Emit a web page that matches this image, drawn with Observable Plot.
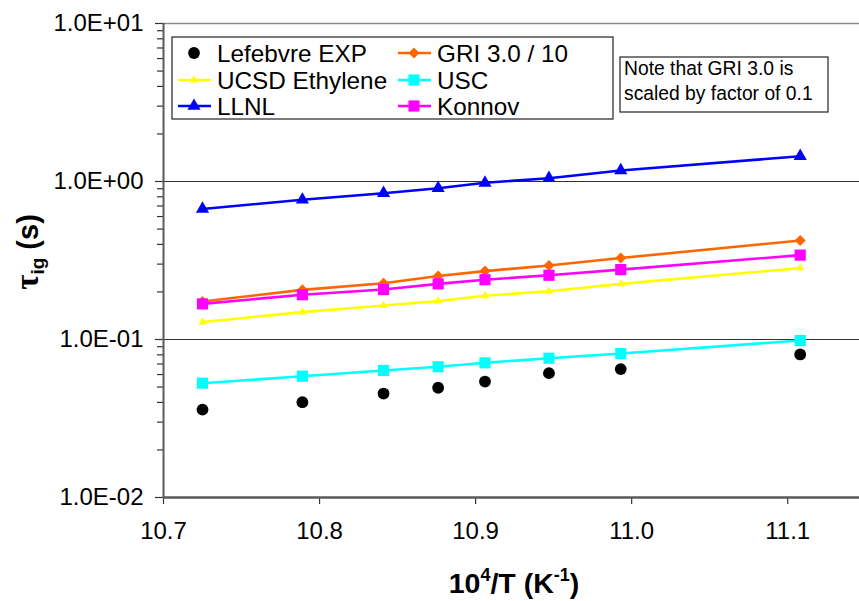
<!DOCTYPE html>
<html>
<head>
<meta charset="utf-8">
<script src="https://cdn.jsdelivr.net/npm/d3@7"></script>
<script src="https://cdn.jsdelivr.net/npm/@observablehq/plot@0.6"></script>
<style>
  body { margin: 0; background: #fff; }
  #chart svg { display: block; font-family: "Liberation Sans", Arial, sans-serif; }
</style>
</head>
<body>
<div id="chart"></div>
<script>
// Inverse temperature, 10^4/T (1/K)
const invT = [10.725, 10.789, 10.841, 10.876, 10.906, 10.947, 10.993, 11.108];

// Ignition delay times, tau_ig (s)
const lefebvreExp  = [0.0360, 0.0401, 0.0455, 0.0495, 0.0542, 0.0612, 0.0650, 0.0804];
const gri30Div10   = [0.174, 0.206, 0.227, 0.252, 0.271, 0.294, 0.328, 0.423];
const ucsdEthylene = [0.129, 0.149, 0.164, 0.175, 0.189, 0.202, 0.225, 0.283];
const usc          = [0.0529, 0.0586, 0.0637, 0.0672, 0.0712, 0.0761, 0.0815, 0.0985];
const llnl         = [0.670, 0.766, 0.843, 0.907, 0.981, 1.049, 1.174, 1.446];
const konnov       = [0.168, 0.192, 0.207, 0.225, 0.239, 0.255, 0.277, 0.342];

const seriesNames = ["Lefebvre EXP", "GRI 3.0 / 10", "UCSD Ethylene", "USC", "LLNL", "Konnov"];

// Axis ticks
const xTicks = [10.7, 10.8, 10.9, 11.0, 11.1];
const yTicks = [0.01, 0.1, 1, 10];
const yMinorTicks = [0.01, 0.1, 1].flatMap(d => [2, 3, 4, 5, 6, 7, 8, 9].map(k => k * d));

const noteLines = ["Note that GRI 3.0 is", "scaled by factor of 0.1"];

// Styling for each series
const series = [
  {name: seriesNames[0], values: lefebvreExp,  color: "#000000", symbol: "circle",   r: 5.9, line: false},
  {name: seriesNames[1], values: gri30Div10,   color: "#FF6600", symbol: "diamond2", r: 5.0, line: true},
  {name: seriesNames[2], values: ucsdEthylene, color: "#FFFF00", symbol: "triangle", r: 3.1, line: true},
  {name: seriesNames[3], values: usc,          color: "#00FFFF", symbol: "square",   r: 6.3, line: true},
  {name: seriesNames[4], values: llnl,         color: "#0000FF", symbol: "triangle", r: 4.9, line: true},
  {name: seriesNames[5], values: konnov,       color: "#FF00FF", symbol: "square",   r: 6.3, line: true}
];

const fmtE = d => {
  const [m, e] = d.toExponential(1).split("e");
  const n = +e;
  return m + "E" + (n < 0 ? "-" : "+") + String(Math.abs(n)).padStart(2, "0");
};

const W = 859, H = 601;
const fontFamily = '"Liberation Sans", Arial, sans-serif';

const seriesMarks = series.flatMap(s => {
  const pts = invT.map((x, i) => ({x, y: s.values[i]}));
  const m = [];
  if (s.line) m.push(Plot.line(pts, {x: "x", y: "y", stroke: s.color, strokeWidth: 2.6}));
  m.push(Plot.dot(pts, {x: "x", y: "y", symbol: s.symbol, r: s.r, fill: s.color, stroke: "none"}));
  return m;
});

const chart = Plot.plot({
  width: W,
  height: H,
  marginLeft: 163,
  marginRight: 0,
  marginTop: 23,
  marginBottom: 104,
  style: {fontFamily, fontSize: "24px", color: "#000", background: "#fff"},
  x: {domain: [10.7, 11.146], label: null},
  y: {type: "log", domain: [0.01, 10], label: null},
  marks: [
    Plot.ruleY([1, 0.1], {stroke: "#333", strokeWidth: 1.2}),
    Plot.ruleY([10], {stroke: "#8a8a8a", strokeWidth: 1.5}),
    Plot.axisY(yMinorTicks, {tickSize: 6, fill: "none", stroke: "#333", strokeWidth: 1.2, label: null}),
    Plot.axisY(yTicks, {tickSize: 8, tickPadding: 12, tickFormat: fmtE, stroke: "#333", strokeWidth: 1.2, fontSize: 24, label: null}),
    Plot.axisX(xTicks, {tickSize: 7, tickPadding: 17, tickFormat: d => d.toFixed(1), stroke: "#333", strokeWidth: 1.2, fontSize: 24, label: null}),
    Plot.ruleX([10.7], {stroke: "#5a5a5a", strokeWidth: 2}),
    Plot.ruleY([0.01], {stroke: "#5a5a5a", strokeWidth: 2.5}),
    ...seriesMarks
  ]
});

const svg = d3.select(chart);

// Legend box with two columns of entries
const legend = svg.append("g").attr("font-family", fontFamily).attr("text-anchor", "start");
legend.append("rect")
  .attr("x", 172).attr("y", 37).attr("width", 441).attr("height", 82)
  .attr("fill", "#fff").attr("stroke", "#333").attr("stroke-width", 1.3);
const symbolTypes = {circle: d3.symbolCircle, diamond2: d3.symbolDiamond2, triangle: d3.symbolTriangle, square: d3.symbolSquare};
const colX = [{line0: 178, cx: 194, tx: 217}, {line0: 398, cx: 414, tx: 437}];
const rowY = [53, 80, 106];
series.forEach((s, i) => {
  const c = colX[i % 2], y = rowY[Math.floor(i / 2)];
  const g = legend.append("g");
  if (s.line) {
    g.append("line").attr("x1", c.line0).attr("x2", c.line0 + 33).attr("y1", y).attr("y2", y)
      .attr("stroke", s.color).attr("stroke-width", 2.6);
  }
  g.append("path")
    .attr("transform", `translate(${c.cx},${y})`)
    .attr("d", d3.symbol(symbolTypes[s.symbol], Math.PI * s.r * s.r)())
    .attr("fill", s.color);
  g.append("text").attr("x", c.tx).attr("y", y).attr("dy", "0.36em")
    .attr("text-anchor", "start")
    .attr("font-size", 24.3).attr("fill", "#000").text(s.name);
});

// Note box
const note = svg.append("g").attr("font-family", fontFamily).attr("text-anchor", "start");
note.append("rect")
  .attr("x", 620).attr("y", 57).attr("width", 208).attr("height", 55)
  .attr("fill", "#fff").attr("stroke", "#333").attr("stroke-width", 1.3);
noteLines.forEach((t, i) => {
  note.append("text").attr("x", 624).attr("y", 68.5 + i * 24.5).attr("dy", "0.36em")
    .attr("text-anchor", "start")
    .attr("font-size", 19.3).attr("fill", "#000").text(t);
});

// Axis titles
const xTitle = svg.append("text")
  .attr("x", 514).attr("y", 593).attr("text-anchor", "middle")
  .attr("font-family", fontFamily).attr("font-size", 28.5).attr("font-weight", "bold").attr("fill", "#000");
xTitle.append("tspan").text("10");
xTitle.append("tspan").attr("font-size", 18).attr("dy", -12).text("4");
xTitle.append("tspan").attr("dy", 12).text("/T (K");
xTitle.append("tspan").attr("font-size", 18).attr("dy", -12).text("-1");
xTitle.append("tspan").attr("dy", 12).text(")");

const yTitle = svg.append("text")
  .attr("transform", "translate(38,252) rotate(-90)").attr("text-anchor", "middle")
  .attr("font-family", fontFamily).attr("font-size", 29).attr("font-weight", "bold").attr("fill", "#000");
yTitle.append("tspan").attr("font-family", '"Liberation Serif", "Times New Roman", serif').attr("font-size", 33).text("τ");
yTitle.append("tspan").attr("font-size", 19).attr("dy", 6).text("ig");
yTitle.append("tspan").attr("dy", -6).text(" (s)");

document.getElementById("chart").appendChild(chart);
</script>
</body>
</html>
